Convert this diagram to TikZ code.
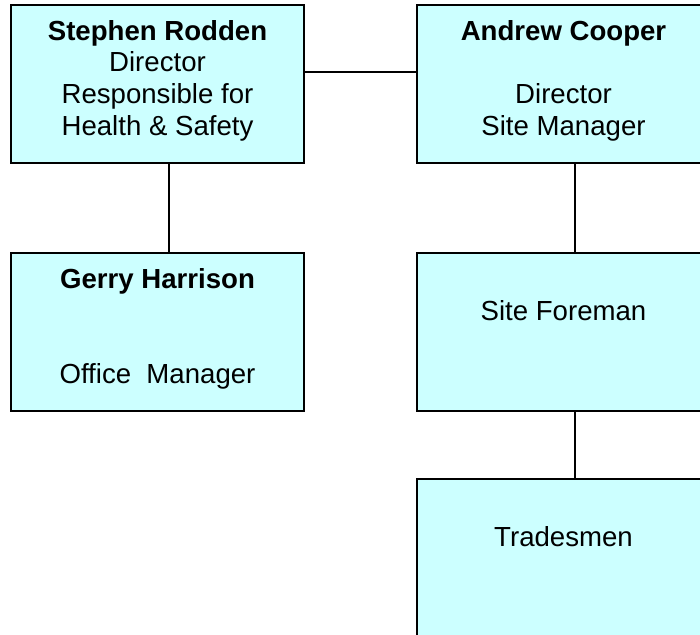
\documentclass[tikz,border=0pt]{standalone}
\usepackage{fontspec}
\setmainfont{Liberation Sans}
\definecolor{boxfill}{HTML}{CCFFFF}
\begin{document}
\begin{tikzpicture}[x=1pt,y=-1pt,
  orgbox/.style={draw=black, line width=1.3pt, fill=boxfill, rectangle, inner sep=0pt},
  orgtext/.style={anchor=base, align=center, inner sep=0pt, font=\fontsize{27.6}{31.7}\selectfont},
  conn/.style={draw=black, line width=1.3pt}]
\useasboundingbox (0,0) rectangle (700,634);
\clip (0,0) rectangle (700,634);
% boxes
\node[orgbox, minimum width=293pt, minimum height=158pt] (sr) at (157.5,84) {};
\node[orgbox, minimum width=293pt, minimum height=158pt] (ac) at (563.5,84) {};
\node[orgbox, minimum width=293pt, minimum height=158pt] (gh) at (157.5,332) {};
\node[orgbox, minimum width=293pt, minimum height=158pt] (sf) at (563.5,332) {};
\node[orgbox, minimum width=293pt, minimum height=161pt] (tr) at (563.5,559.5) {};
% texts (anchor base = baseline of last line)
\node[orgtext] (srt) at (157.5,135.1) {\textbf{Stephen Rodden}\\Director\\Responsible for\\Health \& Safety};
\node[orgtext] (act) at (563.5,135.1) {\textbf{Andrew Cooper}\\[31.7pt]Director\\Site Manager};
\node[orgtext] (ght) at (157.5,383.1) {\textbf{Gerry Harrison}\\[63.4pt]Office\ \ Manager};
\node[orgtext] (sft) at (563.5,320) {Site Foreman};
\node[orgtext] (trt) at (563.5,546) {Tradesmen};
% connectors
\coordinate (h) at (0,72);
\coordinate (v1) at (169,0);
\coordinate (v2) at (575,0);
\draw[conn] (sr.east |- h) -- (ac.west |- h);
\draw[conn] (sr.south -| v1) -- (gh.north -| v1);
\draw[conn] (ac.south -| v2) -- (sf.north -| v2);
\draw[conn] (sf.south -| v2) -- (tr.north -| v2);
\end{tikzpicture}
\end{document}
